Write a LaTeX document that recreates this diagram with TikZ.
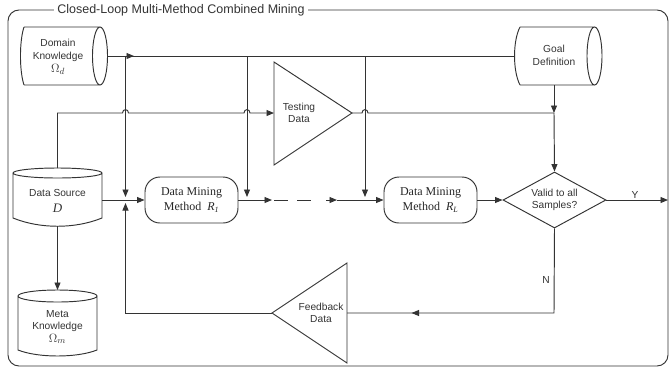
\documentclass[tikz,border=0pt]{standalone}
\usepackage{fontspec}
\setmainfont{Liberation Sans}
\newfontfamily\seriffont{Liberation Serif}
\usetikzlibrary{arrows.meta,shapes.geometric,decorations.markings}
\begin{document}
\begin{tikzpicture}[x=1pt,y=-1pt,
  ln/.style={draw=black!80, line width=0.95pt},
  tip/.style={ln, -{Triangle[length=7.5pt,width=6pt]}},
  lbl/.style={font=\fontsize{10.2}{12.5}\selectfont, text=black!80, align=center, inner sep=0pt},
  dm/.style={ln, rounded corners=15pt, minimum width=93pt, minimum height=46pt, align=center,
    font=\seriffont\fontsize{12}{14.5}\selectfont, text=black!85, inner sep=0pt},
  midarrow/.style={postaction={decorate}, decoration={markings,
    mark=at position #1 with {\arrow{Triangle[length=7.5pt,width=6pt]}}}},
]
\useasboundingbox (0,0) rectangle (670,373);

% frame and title
\draw[ln, rounded corners=11pt] (8,10) rectangle (668,366);
\node[fill=white, inner xsep=3pt, inner ysep=1pt, font=\fontsize{12.5}{14}\selectfont, text=black!80]
  (title) at (181,10) {Closed-Loop Multi-Method Combined Mining};

% Domain Knowledge
\draw[ln] (24,27) -- (100,27) (24,85) -- (100,85)
  (24,27) .. controls (19.3,41) and (19.3,71) .. (24,85)
  (100,56) ellipse [x radius=7.5, y radius=29];
\node[lbl] (dk) at (58,57) {Domain\\Knowledge\\[1pt]{\fontsize{13}{13}\selectfont$\Omega_d$}};

% Goal Definition
\draw[ln] (520,27) -- (594.5,27) (520,85) -- (594.5,85)
  (520,27) .. controls (512.7,41) and (512.7,71) .. (520,85)
  (594.5,56) ellipse [x radius=7.5, y radius=29];
\node[lbl] (goal) at (554,55.5) {Goal\\Definition};

% Data Source
\draw[ln] (13,173) -- (13,218) .. controls (40,229) and (75,229) .. (102,218) -- (102,173)
  (57.5,173) ellipse [x radius=44.5, y radius=5];
\node[lbl] (ds) at (57.5,201) {Data Source\\[4pt]{\seriffont\itshape\fontsize{13}{13}\selectfont D}};

% Meta Knowledge
\draw[ln] (18,296) -- (18,350) .. controls (38,358) and (77,358) .. (97,350) -- (97,296)
  (57.5,296) ellipse [x radius=39.5, y radius=6];
\node[lbl] (meta) at (57.5,327) {Meta\\Knowledge\\[0pt]{\fontsize{13}{13}\selectfont$\Omega_m$}};

% Testing Data
\draw[ln] (274,62) -- (352,113) -- (274,165) -- cycle;
\node[lbl] (td) at (299,113) {Testing\\Data};

% Feedback Data
\draw[ln] (347,263) -- (272,313) -- (347,363) -- cycle;
\node[lbl] (fb) at (321,313) {Feedback\\Data};

% Mining boxes
\node[dm] (r1) at (191.5,200) {Data Mining\\Method\enspace\textit{R}\textsubscript{\textit{1}}};
\node[dm] (rl) at (430.5,200) {Data Mining\\Method\enspace\textit{R}\textsubscript{\textit{L}}};

% Decision
\node[lbl, ln, diamond, aspect=1.84, minimum width=103pt, minimum height=56pt, inner sep=0pt]
  (valid) at (554.5,200) {Valid to all\\Samples?};

% coordinates
\coordinate (dkE) at (107,56);
\coordinate (goW) at (514.5,56);
\coordinate (goS) at (554,85);
\coordinate (j1) at (125.5,56);
\coordinate (j2) at (247,56);
\coordinate (j3) at (365,56);
\coordinate (m1) at (125.5,200);
\coordinate (m2) at (247,200);
\coordinate (m3) at (365,200);
\coordinate (gj) at (554,113);
\coordinate (dsN) at (57.5,168);
\coordinate (dsE) at (102,200);
\coordinate (dsS) at (57.5,226);
\coordinate (metaN) at (57.5,290);
\coordinate (tdW) at (274,113);
\coordinate (tdE) at (352,113);
\coordinate (fbW) at (272,313);
\coordinate (fbE) at (347,313);
\coordinate (fbl) at (125.5,313);
\coordinate (nc) at (554,313);
\coordinate (yend) at (668,200);
\coordinate (d1) at (272,200);
\coordinate (d2) at (274,200);
\coordinate (d3) at (317,200);
\coordinate (d4) at (326,200);
\coordinate (d5) at (337,200);

% connectors
\draw[ln, midarrow=27pt] (dkE) -- (goW);
\draw[tip, shorten >=3pt] (j1) -- (m1);
\draw[tip, shorten >=3pt] (j2) -- (m2);
\draw[tip, shorten >=3pt] (j3) -- (m3);
\draw[tip] (dsN) -- (57.5,113) -- (122.5,113) .. controls (122.5,108.5) and (128.5,108.5) .. (128.5,113)
  -- (244,113) .. controls (244,108.5) and (250,108.5) .. (250,113) -- (tdW);
\draw[ln] (tdE) -- (362,113) .. controls (362,108.5) and (368,108.5) .. (368,113) -- (gj);
\draw[tip] (goS) -- (gj);
\draw[tip] (gj) -- (valid.north);
\draw[tip] (dsE) -- (r1.west);
\draw[tip, shorten >=3pt] (fbW) -- (fbl) -- (m1);
\draw[tip] (r1.east) -- (d1);
\draw[ln, dash pattern=on 13.5pt off 9.5pt] (d2) -- (d3);
\draw[tip] (d4) -- (d5);
\draw[tip] (d5) -- (rl.west);
\draw[tip] (rl.east) -- (valid.west);
\draw[tip] (valid.east) -- (yend);
\draw[ln, midarrow=227pt] (valid.south) -- (nc) -- (fbE);
\draw[tip] (dsS) -- (metaN);
\node[lbl] (ylab) at (635,195) {Y};
\node[lbl] (nlab) at (546,280) {N};
\end{tikzpicture}
\end{document}
